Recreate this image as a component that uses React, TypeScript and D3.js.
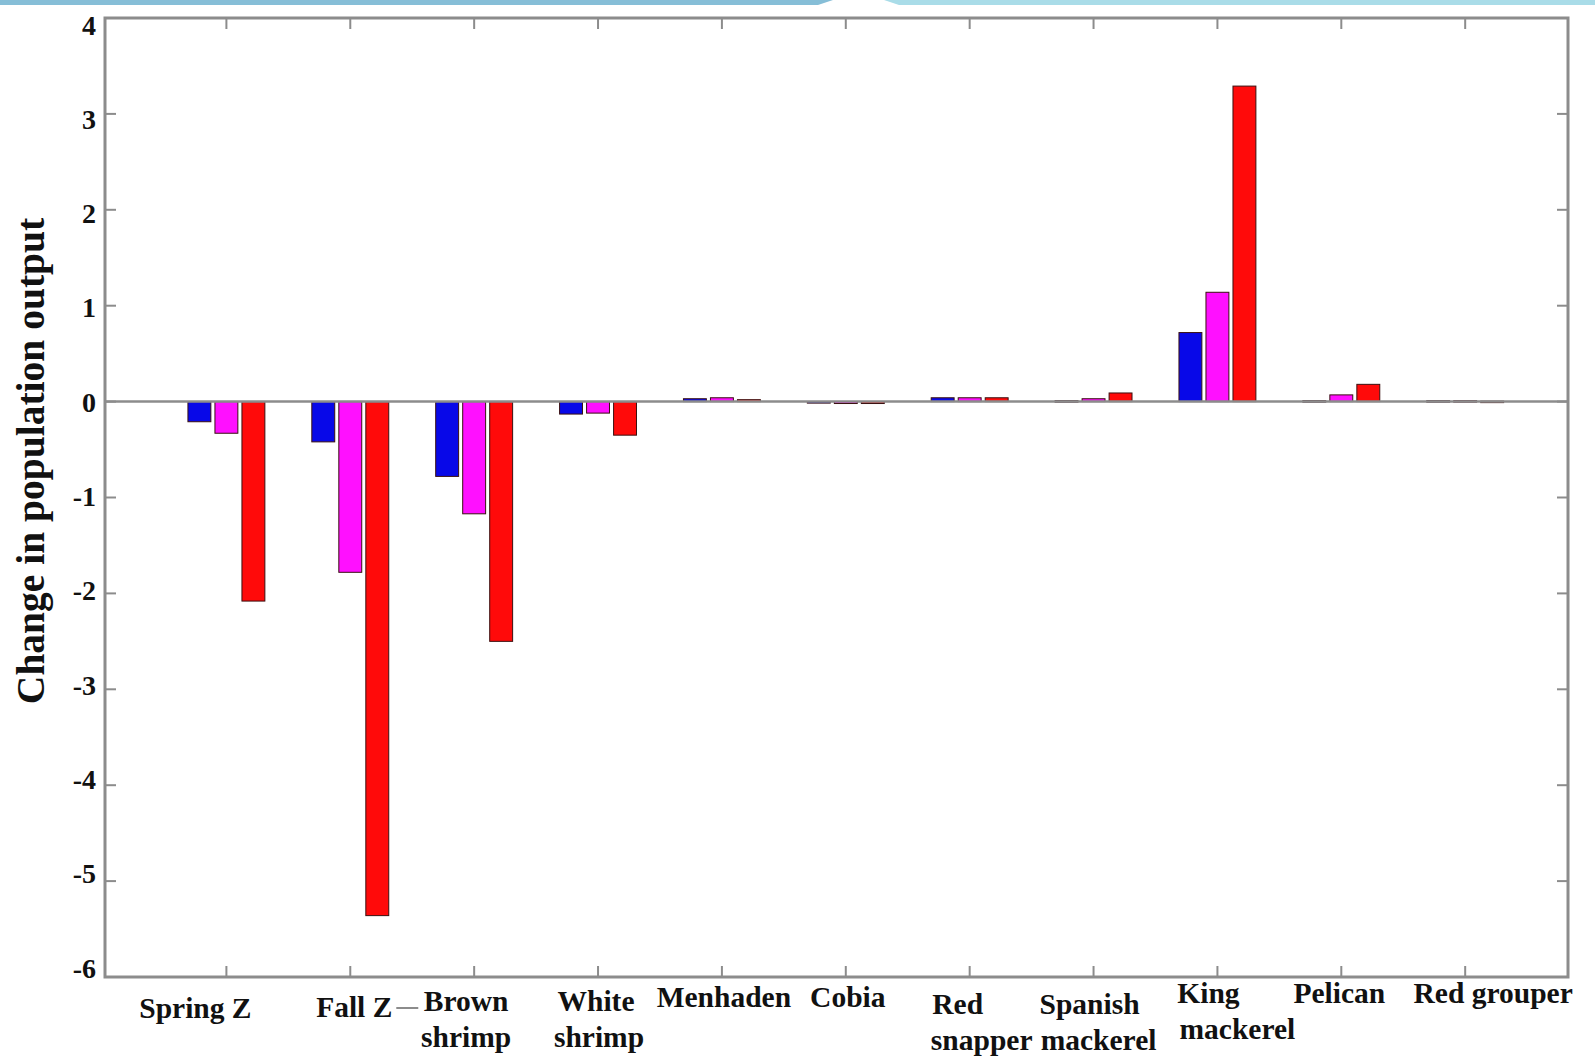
import React, { useRef, useEffect } from 'react';
import * as d3 from 'd3';

// species along the x axis (one group of three bars each)
const categories = [
  'Spring Z', 'Fall Z', 'Brown shrimp', 'White shrimp', 'Menhaden', 'Cobia',
  'Red snapper', 'Spanish mackerel', 'King mackerel', 'Pelican', 'Red grouper',
];

// three scenarios
const seriesBlue = [-0.21, -0.42, -0.78, -0.13, 0.03, -0.01, 0.04, 0.01, 0.72, 0.01, 0.01];
const seriesMagenta = [-0.33, -1.78, -1.17, -0.12, 0.04, -0.02, 0.04, 0.03, 1.14, 0.07, 0.01];
const seriesRed = [-2.08, -5.36, -2.5, -0.35, 0.02, -0.02, 0.04, 0.09, 3.29, 0.18, 0.005];

const yTicks = [-6, -5, -4, -3, -2, -1, 0, 1, 2, 3, 4];

// hand placed label layout (the labels in the picture do not sit exactly on the ticks)
const labelLayout = [
  { lines: ['Spring Z'], dx: -31, y: 1018 },
  { lines: ['Fall Z'], dx: 4, y: 1017 },
  { lines: ['Brown', 'shrimp'], dx: -8, y: 1011 },
  { lines: ['White', 'shrimp'], dx: -2, y: 1011, dx2: 1 },
  { lines: ['Menhaden'], dx: 2, y: 1007 },
  { lines: ['Cobia'], dx: 2, y: 1007 },
  { lines: ['Red', 'snapper'], dx: -12, y: 1014, dx2: 12 },
  { lines: ['Spanish', 'mackerel'], dx: -4, y: 1014, dx2: 5 },
  { lines: ['King', 'mackerel'], dx: -9, y: 1003, dx2: 20 },
  { lines: ['Pelican'], dx: -2, y: 1003 },
  { lines: ['Red grouper'], dx: 28, y: 1003 },
];

const FONT = "'Liberation Serif', 'Times New Roman', serif";

const App: React.FC = () => {
  const svgRef = useRef<SVGSVGElement | null>(null);
  const width = 1595;
  const height = 1061;

  useEffect(() => {
    if (!svgRef.current) return;
    const svg = d3.select(svgRef.current);
    svg.selectAll('*').remove();

    const x = d3.scaleLinear().domain([0.02, 11.83]).range([105, 1568]);
    const y = d3.scaleLinear().domain([-6, 4]).range([977, 18]);
    const axisColor = '#8c8c8c';

    // banner strip at the top
    svg.append('polygon').attr('points', '0,0 833,0 818,5 0,5').attr('fill', '#86bed7');
    svg.append('polygon').attr('points', '884,0 1595,0 1595,5 899,5').attr('fill', '#a9dce8');

    const series = [
      { values: seriesBlue, color: '#0808e8', off: -0.218 },
      { values: seriesMagenta, color: '#ff10ff', off: 0 },
      { values: seriesRed, color: '#ff0a0a', off: 0.218 },
    ];
    const bw = 0.185;

    const bars = svg.append('g');
    series.forEach(s => {
      bars.selectAll(null)
        .data(s.values)
        .join('rect')
        .attr('x', (_, i) => x(i + 1 + s.off - bw / 2))
        .attr('width', x(bw) - x(0))
        .attr('y', d => Math.min(y(d), y(0)))
        .attr('height', d => Math.max(1.5, Math.abs(y(d) - y(0))))
        .attr('fill', s.color)
        .attr('stroke', '#3a1010')
        .attr('stroke-width', 1);
    });

    // zero line
    svg.append('line')
      .attr('x1', x.range()[0]).attr('x2', x.range()[1])
      .attr('y1', y(0)).attr('y2', y(0))
      .attr('stroke', axisColor).attr('stroke-width', 2.5);

    // box
    svg.append('rect')
      .attr('x', x.range()[0]).attr('y', y.range()[1])
      .attr('width', x.range()[1] - x.range()[0])
      .attr('height', y.range()[0] - y.range()[1])
      .attr('fill', 'none').attr('stroke', axisColor).attr('stroke-width', 3);

    const tickLen = 11;
    const ticks = svg.append('g').attr('stroke', axisColor).attr('stroke-width', 2);
    categories.forEach((_, i) => {
      const cx = x(i + 1);
      ticks.append('line').attr('x1', cx).attr('x2', cx).attr('y1', y(-6)).attr('y2', y(-6) - tickLen);
      ticks.append('line').attr('x1', cx).attr('x2', cx).attr('y1', y(4)).attr('y2', y(4) + tickLen);
    });
    yTicks.forEach(t => {
      ticks.append('line').attr('x1', x.range()[0]).attr('x2', x.range()[0] + tickLen).attr('y1', y(t)).attr('y2', y(t));
      ticks.append('line').attr('x1', x.range()[1]).attr('x2', x.range()[1] - tickLen).attr('y1', y(t)).attr('y2', y(t));
    });

    // y tick labels (in the picture they drift slightly towards the middle)
    svg.append('g')
      .selectAll('text')
      .data(yTicks)
      .join('text')
      .attr('x', 96)
      .attr('y', d => y(d) + 9.5 - 9 + (d + 6) * 1.6)
      .attr('text-anchor', 'end')
      .style('font-family', FONT)
      .style('font-weight', 'bold')
      .style('font-size', '28px')
      .attr('fill', '#111')
      .text(d => String(d));

    // x category labels
    const xl = svg.append('g')
      .style('font-family', FONT)
      .style('font-weight', 'bold')
      .style('font-size', '29.5px')
      .attr('fill', '#111');
    categories.forEach((_, i) => {
      const lay = labelLayout[i];
      lay.lines.forEach((line, k) => {
        xl.append('text')
          .attr('x', x(i + 1) + (k === 0 ? lay.dx : (lay.dx2 ?? lay.dx)))
          .attr('y', lay.y + k * 36)
          .attr('text-anchor', 'middle')
          .text(line);
      });
    });

    // stray dash after "Fall Z"
    svg.append('line')
      .attr('x1', x(2) + 46).attr('x2', x(2) + 68)
      .attr('y1', 1008).attr('y2', 1008)
      .attr('stroke', axisColor).attr('stroke-width', 2);

    // y axis title
    svg.append('text')
      .attr('transform', `translate(44,${461}) rotate(-90)`)
      .attr('text-anchor', 'middle')
      .style('font-family', FONT)
      .style('font-weight', 'bold')
      .style('font-size', '39.5px')
      .attr('fill', '#111')
      .text('Change in population output');
  }, []);

  return (
    <svg
      ref={svgRef}
      width={width}
      height={height}
      style={{ position: 'absolute', left: 0, top: 0, background: '#fff' }}
    />
  );
};

export default App;
